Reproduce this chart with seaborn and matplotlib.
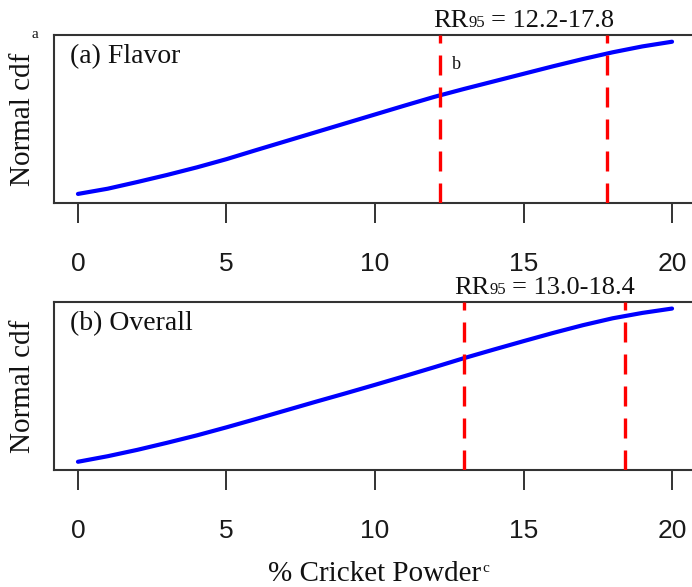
import matplotlib
matplotlib.use("Agg")
import matplotlib.pyplot as plt
import matplotlib.transforms as mtransforms
import seaborn as sns
import pandas as pd

# Cricket powder level (%) and the fitted normal cdf of each attribute
cricket_pct = list(range(0, 21))
flavor_cdf = [0.054, 0.085, 0.125, 0.167, 0.212, 0.261, 0.315, 0.368, 0.421, 0.474,
              0.527, 0.580, 0.632, 0.679, 0.724, 0.769, 0.814, 0.857, 0.897, 0.932, 0.960]
overall_cdf = [0.049, 0.082, 0.120, 0.162, 0.206, 0.254, 0.304, 0.355, 0.406, 0.456,
               0.507, 0.559, 0.612, 0.666, 0.717, 0.767, 0.816, 0.862, 0.903, 0.935, 0.961]

panel_titles = ["(a) Flavor", "(b) Overall"]
rr95_limits = [(12.2, 17.8), (13.0, 18.4)]
x_ticks = [0, 5, 10, 15, 20]
y_label = "Normal cdf"
x_label = "% Cricket Powder"

sns.set_theme(style="white")
SERIF = ["Liberation Serif", "DejaVu Serif"]
SANS = ["Liberation Sans", "DejaVu Sans"]
plt.rcParams["font.family"] = SERIF

DPI = 100
W, H = 692, 587
fig = plt.figure(figsize=(W / DPI, H / DPI), dpi=DPI)

# axes boxes in pixel units (left, top, right, bottom)
boxes = [(54.2, 35, 695.8, 203), (54.2, 302, 695.8, 470)]
axes = []
for (l, t, r, b) in boxes:
    axes.append(fig.add_axes([l / W, 1 - b / H, (r - l) / W, (b - t) / H]))

renderer = fig.canvas.get_renderer()


def draw_segments(ax, x, y, segments, transform, center_on=None):
    """Draw adjacent text pieces of different sizes on a common baseline."""
    pieces = []
    for text, size, dy, gap in segments:
        t = ax.text(x, y, text, transform=transform, fontsize=size,
                    ha="left", va="baseline", family=SERIF, color="#111111")
        w = t.get_window_extent(renderer).width
        pieces.append((t, w, dy, gap))
    if center_on is None:
        total = sum(w + g for _, w, _, g in pieces)
    else:
        total = sum(w + g for _, w, _, g in pieces[:center_on])
    cur = -total / 2
    for t, w, dy, gap in pieces:
        cur += gap
        t.set_transform(mtransforms.offset_copy(transform, fig=fig, x=cur, y=dy, units="dots"))
        cur += w


series = [flavor_cdf, overall_cdf]
for i, ax in enumerate(axes):
    df = pd.DataFrame({"pct": cricket_pct, "cdf": series[i]})
    sns.lineplot(data=df, x="pct", y="cdf", ax=ax, color="#0000ff", linewidth=3.0, zorder=2)
    lo, hi = rr95_limits[i]
    for v in (lo, hi):
        ax.axvline(v, color="#ff0000", linewidth=2.4, dashes=(6, 3.6), zorder=3)

    ax.set_xlim(-0.8, 20.8)
    ax.set_ylim(0, 1)
    ax.set_xticks(x_ticks)
    ax.set_xticklabels([str(v) for v in x_ticks], fontfamily=SANS, fontsize=19, color="#1a1a1a")
    ax.set_yticks([])
    ax.set_xlabel("")
    ax.set_ylabel("")
    ax.tick_params(axis="x", direction="out", length=14.4, width=1.4, color="#333333",
                   pad=21, bottom=True)
    for sp in ax.spines.values():
        sp.set_color("#333333")
        sp.set_linewidth(1.5)

    ax.text(0.0246, 0.833, panel_titles[i], transform=ax.transAxes, fontsize=20,
            ha="left", va="baseline", color="#111111")
    ax.text(-0.0486, 0.5, y_label, transform=ax.transAxes, rotation=90, fontsize=21,
            ha="center", va="center", color="#111111")

    # reference range label above the box
    trans = mtransforms.blended_transform_factory(ax.transData, ax.transAxes)
    draw_segments(ax, (lo + hi) / 2, 1.0, [
        ("RR", 19, 0, 0),
        ("95", 12, 0, 0),
        (f"= {lo:.1f}-{hi:.1f}", 19, 0, 6),
    ], mtransforms.offset_copy(trans, fig=fig, x=0, y=8, units="dots"))

# footnote markers
fig.text(35 / W, 1 - 34 / H, "a", fontsize=11, ha="center", va="center", color="#111111")
axes[0].text(12.73, 0.824, "b", transform=mtransforms.blended_transform_factory(
    axes[0].transData, axes[0].transAxes), fontsize=13, ha="center", va="center",
    color="#111111")

# shared x-axis title with superscript marker
xl_trans = mtransforms.blended_transform_factory(axes[1].transData, fig.transFigure)
draw_segments(axes[1], 10, 1 - 581 / H, [
    (x_label, 21, 0, 0),
    ("c", 11, 9, 1),
], xl_trans, center_on=1)
for t in axes[1].texts:
    t.set_clip_on(False)

fig.savefig("out.png", dpi=DPI)
